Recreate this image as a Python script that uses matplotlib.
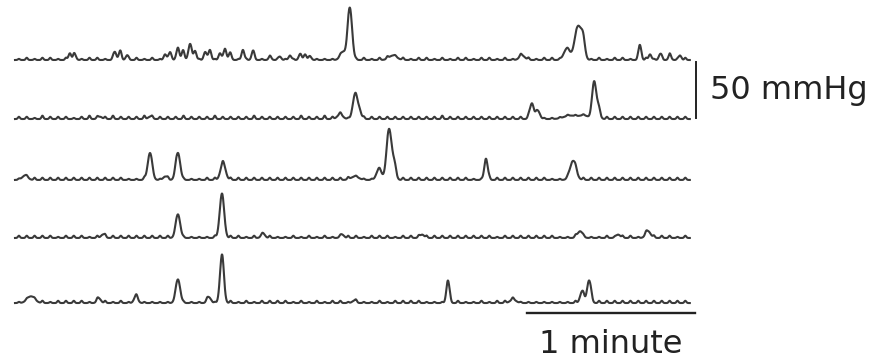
import numpy as np
import matplotlib.pyplot as plt

# recording length of each row (s) and spacing of the small baseline ripples (s)
duration = 241.0
ripple_step = 2.8

# contractions per row: (time s, amplitude mmHg, width s)
row1_peaks = [(19.6, 6, 0.5), (21.4, 4, 0.5), (35.7, 7, 0.5), (37.5, 7, 0.5), (40.0, 4, 0.5),
              (53.6, 5, 0.5), (55.4, 7, 0.5), (58.2, 11, 0.5), (60.0, 8, 0.5), (62.5, 14, 0.6),
              (64.3, 8, 0.5), (67.9, 7, 0.5), (69.6, 9, 0.5), (73.2, 6, 0.5), (75.0, 10, 0.5),
              (76.8, 6, 0.5), (81.4, 9, 0.5), (85.0, 8, 0.5), (91.1, 3, 0.5), (94.6, 3, 0.5),
              (98.2, 4, 0.5), (101.8, 5, 0.5), (103.6, 5, 0.5), (105.4, 3, 0.5),
              (117.1, 7, 1.0), (119.6, 46, 0.8), (135.0, 4, 1.4), (181.1, 4, 1.0),
              (197.1, 10, 1.1), (201.1, 30, 1.2), (202.9, 14, 0.7),
              (223.2, 13, 0.5), (226.8, 5, 0.5), (230.4, 5, 0.5), (233.9, 4, 0.5), (237.5, 4, 0.5)]
row2_peaks = [(30.4, 2, 0.7), (48.2, 2, 0.7), (116.1, 4, 1.0), (121.4, 21, 0.8), (122.9, 8, 0.7),
              (184.6, 14, 0.7), (186.8, 7, 0.7), (198.2, 3, 2.2), (203.2, 3, 1.8),
              (206.8, 32, 0.7), (208.2, 10, 0.7)]
row3_peaks = [(3.6, 4, 1.0), (48.2, 24, 0.8), (53.6, 3, 0.7), (58.2, 24, 0.8), (74.3, 15, 0.9),
              (121.4, 3, 1.4), (130.0, 10, 0.9), (133.6, 45, 0.9), (135.4, 12, 0.7),
              (168.2, 19, 0.6), (199.3, 17, 1.1)]
row4_peaks = [(31.4, 3, 0.7), (58.2, 21, 0.8), (73.9, 39, 0.8), (88.6, 4, 0.7), (116.8, 3, 0.7),
              (145.4, 3, 0.7), (201.8, 6, 0.9), (215.4, 3, 0.7), (226.1, 6, 0.9)]
row5_peaks = [(5.7, 6, 1.4), (30.0, 4, 0.7), (43.2, 6, 0.7), (58.2, 21, 0.8), (69.3, 5, 0.7),
              (73.9, 42, 0.7), (121.1, 2, 0.7), (154.6, 20, 0.55), (177.9, 3, 1.1),
              (202.5, 10, 0.7), (205.0, 20, 0.7)]

# small baseline ripple heights (mmHg), one every ripple_step seconds
row1_ripples = [1, 2, 1, 2, 2, 1, 2, 3, 1, 2, 2, 1, 2, 2, 1, 2, 1, 2, 1, 1, 1, 1, 1, 1, 1, 1, 1, 1,
                1, 1, 1, 1, 1, 1, 1, 1, 1, 1, 1, 1, 1, 1, 2, 1, 2, 1, 2, 2, 1, 2, 1, 2, 2, 1, 2, 1,
                2, 2, 1, 2, 2, 1, 2, 1, 2, 2, 1, 2, 2, 1, 1, 1, 1, 1, 2, 1, 2, 2, 1, 2, 2, 1, 2, 2,
                1, 2]
row2_ripples = [2, 2, 1, 3, 2, 2, 2, 1, 2, 3, 2, 2, 3, 2, 2, 2, 3, 2, 2, 2, 2, 3, 2, 2, 2, 3, 2, 2,
                2, 2, 3, 2, 2, 2, 2, 2, 3, 2, 2, 3, 2, 2, 1, 2, 2, 2, 2, 2, 2, 2, 2, 2, 2, 2, 3, 2,
                2, 2, 2, 2, 2, 2, 2, 2, 2, 2, 2, 1, 1, 1, 1, 1, 1, 1, 2, 2, 2, 2, 2, 2, 2, 2, 2, 2,
                2, 2]
row3_ripples = [1, 1, 2, 2, 2, 2, 2, 2, 2, 2, 2, 2, 2, 2, 1, 1, 2, 1, 1, 2, 2, 1, 1, 1, 2, 2, 2, 2,
                2, 2, 2, 2, 2, 2, 2, 2, 2, 2, 2, 2, 2, 2, 2, 1, 1, 1, 1, 1, 2, 2, 2, 2, 2, 2, 2, 2,
                2, 2, 1, 1, 2, 2, 2, 2, 2, 2, 2, 2, 1, 1, 1, 2, 2, 2, 2, 2, 2, 2, 2, 2, 2, 2, 2, 2,
                2, 2]
row4_ripples = [2, 2, 2, 2, 2, 1, 2, 2, 2, 1, 2, 2, 2, 2, 2, 2, 2, 2, 2, 2, 1, 1, 1, 1, 1, 2, 1, 2,
                2, 1, 2, 1, 2, 1, 1, 2, 1, 2, 1, 2, 1, 1, 2, 2, 1, 2, 2, 2, 1, 2, 2, 2, 2, 2, 2, 2,
                2, 2, 2, 2, 2, 1, 2, 2, 2, 2, 2, 2, 2, 1, 1, 2, 1, 1, 1, 2, 1, 2, 2, 1, 2, 2, 2, 2,
                1, 2]
row5_ripples = [1, 1, 1, 2, 1, 2, 2, 2, 2, 1, 2, 2, 1, 2, 1, 2, 1, 1, 1, 1, 1, 1, 1, 1, 2, 1, 2, 2,
                1, 2, 1, 2, 2, 2, 2, 1, 2, 1, 2, 1, 2, 2, 1, 2, 1, 1, 2, 1, 2, 2, 2, 2, 1, 1, 1, 2,
                2, 1, 1, 2, 1, 2, 2, 2, 1, 1, 1, 1, 1, 1, 1, 2, 2, 2, 2, 2, 2, 2, 2, 2, 2, 2, 2, 2,
                2, 2]

rows = [(row1_peaks, row1_ripples), (row2_peaks, row2_ripples), (row3_peaks, row3_ripples),
        (row4_peaks, row4_ripples), (row5_peaks, row5_ripples)]

# vertical placement of each row (mmHg below the first)
row_offsets = [0, -52.7, -107.1, -158.9, -217.0]


def build_trace(peaks, ripples):
    t = np.linspace(0, duration, 2411)
    p = np.zeros_like(t)
    for tp, amp, w in peaks:
        p += amp * np.exp(-0.5 * ((t - tp) / w) ** 2)
    for i, amp in enumerate(ripples):
        tr = (i + 0.5) * ripple_step
        p += amp * np.exp(-0.5 * ((t - tr) / 0.35) ** 2)
    return t, p


fig = plt.figure(figsize=(8.79, 3.61), dpi=100)
ax = fig.add_axes([0, 0, 1, 1])
ax.axis("off")
ax.set_xlim(-15 / 2.8, 864 / 2.8)
ax.set_ylim(-301 / 1.12, 60 / 1.12)

for (peaks, ripples), off in zip(rows, row_offsets):
    t, p = build_trace(peaks, ripples)
    ax.plot(t, p + off, color="#3a3a3a", lw=1.5, solid_joinstyle="round")

# 50 mmHg scale bar
ax.plot([243.2, 243.2], [-1.8, -51.8], color="#222222", lw=1.4)
ax.text(248.2, -26.8, "50 mmHg", fontsize=23, color="#222222", va="center", ha="left")

# 1 minute scale bar
ax.plot([182.9, 242.9], [-225.9, -225.9], color="#222222", lw=1.7)
ax.text(212.9, -261.6, "1 minute", fontsize=23, color="#222222", va="baseline", ha="center")

plt.savefig("out.png", dpi=100)
